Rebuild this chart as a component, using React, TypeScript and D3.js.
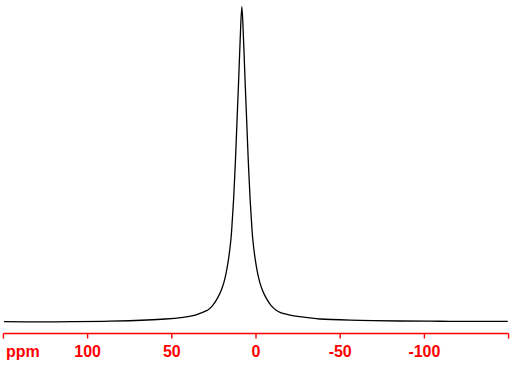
import React from "react";
import * as d3 from "d3";

// Spectrum: chemical shift (ppm) and relative intensity
const ppmValues = [
  149.6, 128.3, 108.7, 86.7, 64.7, 54.0, 43.35, 37.4, 33.3, 28.59, 25.92, 22.95, 20.63,
  19.09, 17.78, 16.3, 14.93, 14.34, 13.33, 12.2, 11.25, 10.3, 9.41, 8.4,
  7.39, 6.5, 5.55, 4.6, 3.47, 2.46, 1.87, 0.5, -0.98, -2.29, -3.83, -6.15, -9.12,
  -11.79, -14.6, -20.2, -26.1, -38, -61.8, -85.5, -103.3, -115.2, -133, -149.5,
];
const intensities = [
  0.1, 0.06, 0.1, 0.25, 0.63, 0.95, 1.5, 2.0, 2.76, 3.8, 5.1, 7.5, 10.1,
  12.5, 15.4, 20, 26.0, 30, 38.7, 51.4, 64.1, 76.75, 89.4, 100,
  89.4, 76.75, 64.1, 51.4, 38.7, 30, 26.0, 20, 15.4, 12.5, 10.1, 7.5, 5.1,
  3.8, 2.95, 2.2, 1.7, 0.95, 0.54, 0.32, 0.25, 0.22, 0.19, 0.22,
];
const tickValues = [150, 100, 50, 0, -50, -100, -150];
const tickLabels = ["", "100", "50", "0", "-50", "-100", ""];
const axisTitle = "ppm";

const W = 512;
const H = 369;

export default function App() {
  const x = d3.scaleLinear().domain([150, -150]).range([3.4, 508.6]);
  const y = d3.scaleLinear().domain([0, 100]).range([322, 6.7]);
  const data = ppmValues.map((p, i) => [p, intensities[i]] as [number, number]);
  const line = d3
    .line<[number, number]>()
    .x((d) => x(d[0]))
    .y((d) => y(d[1]))
    .curve(d3.curveCatmullRom.alpha(0.5));
  const axisY = 333.5;
  const red = "#ff0000";
  return (
    <svg
      width={W}
      height={H}
      viewBox={`0 0 ${W} ${H}`}
      style={{ position: "absolute", left: 0, top: 0, background: "#fff" }}
    >
      <rect x={0} y={0} width={W} height={H} fill="#fff" />
      <path d={line(data) || ""} fill="none" stroke="#000" strokeWidth={1.3} strokeLinejoin="round" />
      <line x1={x(150)} x2={x(-150)} y1={axisY} y2={axisY} stroke={red} strokeWidth={1.4} />
      {tickValues.map((t, i) => (
        <g key={t}>
          <line x1={x(t)} x2={x(t)} y1={axisY} y2={axisY + 5} stroke={red} strokeWidth={1.4} />
          {tickLabels[i] && (
            <text
              x={x(t)}
              y={357.3}
              textAnchor="middle"
              fill={red}
              fontFamily="'Liberation Sans', Arial, sans-serif"
              fontWeight="bold"
              fontSize={16}
            >
              {tickLabels[i]}
            </text>
          )}
        </g>
      ))}
      <text
        x={6}
        y={357.3}
        fill={red}
        fontFamily="'Liberation Sans', Arial, sans-serif"
        fontWeight="bold"
        fontSize={16}
      >
        {axisTitle}
      </text>
    </svg>
  );
}
